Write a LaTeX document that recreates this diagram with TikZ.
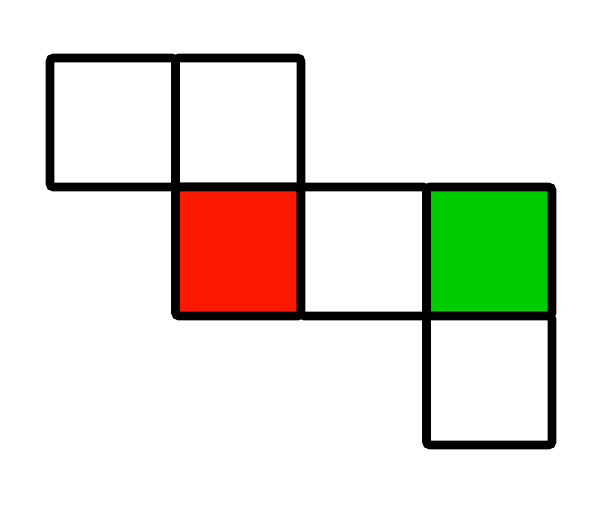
\documentclass[tikz,border=0pt]{standalone}
\usepackage{tikz}
\usetikzlibrary{positioning}

\definecolor{cellred}{RGB}{250,24,0}
\definecolor{cellgreen}{RGB}{0,204,0}

\begin{document}
\begin{tikzpicture}[x=0.02cm, y=-0.02cm,
  cell/.style={draw=black, line width=5pt, rounded corners=2pt,
    minimum width=2.51cm, minimum height=2.58cm, inner sep=0pt, outer sep=0pt,
    fill=white}]

% --- PARAMETERS ---
\def\cw{125.5} % cell width (px)
\def\ch{129}   % cell height (px)
\def\ox{50}    % left edge of grid
\def\oy{58}    % top edge of grid

% --- CANVAS ---
\fill[white] (0,0) rectangle (595,504);
\useasboundingbox (0,0) rectangle (595,504);

% --- CELLS ---
% col/row/name/fill
\foreach \c/\r/\nm/\col in {0/0/ta/white,1/0/tb/white,
                           1/1/mred/cellred,2/1/mmid/white,3/1/mgreen/cellgreen,
                           3/2/bot/white} {
  \node[cell, fill=\col] (\nm) at ({\ox+(\c+0.5)*\cw},{\oy+(\r+0.5)*\ch}) {};
}

\end{tikzpicture}
\end{document}
